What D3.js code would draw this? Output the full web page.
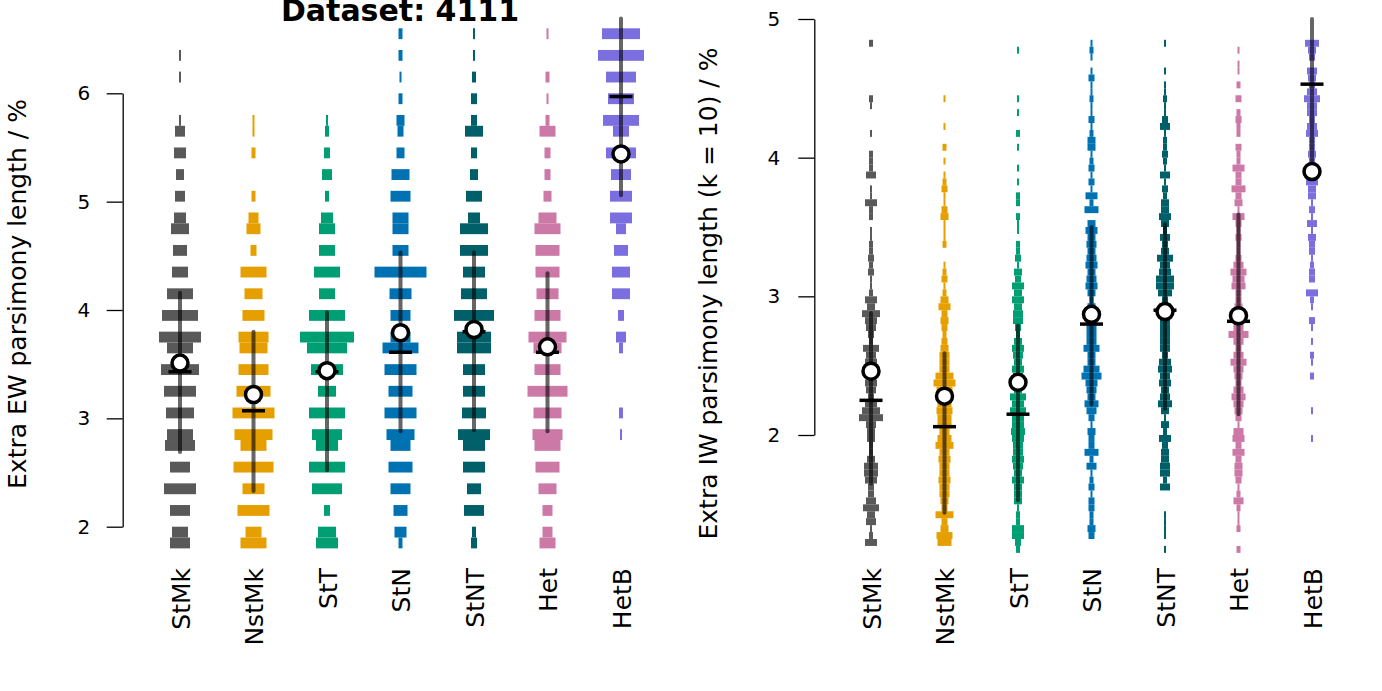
<!DOCTYPE html>
<html>
<head>
<meta charset="utf-8">
<script src="https://cdn.jsdelivr.net/npm/d3@7"></script>
<style>
  body { margin: 0; background: #fff; }
  svg text { font-family: "DejaVu Sans", sans-serif; fill: #000; }
</style>
</head>
<body>
<div id="chart"></div>
<script>
// categories and colours
const categories = ["StMk", "NstMk", "StT", "StN", "StNT", "Het", "HetB"];
const catColors = ["#595959", "#E69F00", "#009E73", "#0072B2", "#005F69", "#CC79A7", "#7B6EDE"];

// left panel: extra EW parsimony length, histogram bins (lower edge, width 0.1)
const ewBins = [1.8, 1.9, 2.1, 2.3, 2.5, 2.7, 2.8, 3.0, 3.2, 3.4, 3.6, 3.7, 3.9, 4.1,
                4.3, 4.5, 4.7, 4.8, 5.0, 5.2, 5.4, 5.6, 5.7, 5.9, 6.1, 6.3, 6.5];
const ewStMk  = [10, 8, 10, 16, 10, 15, 13, 14, 16, 19, 13, 21, 18, 13, 8, 7, 9, 6, 5, 4, 6, 5, 1, 0, 1, 1, 0];
const ewNstMk = [13, 8, 16, 11, 20, 13, 19, 21, 17, 15, 14, 15, 11, 9, 13, 3, 7, 5, 2, 0, 2, 1, 1, 0, 0, 0, 0];
const ewStT   = [11, 9, 3, 15, 18, 11, 15, 18, 9, 16, 20, 27, 18, 8, 13, 8, 8, 6, 2, 5, 3, 2, 1, 0, 0, 0, 0];
const ewStN   = [2, 6, 7, 10, 12, 10, 14, 16, 12, 16, 18, 10, 10, 11, 26, 8, 8, 8, 10, 9, 4, 3, 4, 2, 1, 2, 2];
const ewStNT  = [3, 2, 10, 7, 11, 11, 16, 12, 11, 11, 17, 17, 20, 13, 11, 14, 14, 6, 8, 4, 3, 9, 3, 3, 2, 1, 1];
const ewHet   = [8, 5, 5, 9, 12, 13, 15, 14, 20, 13, 14, 19, 13, 11, 12, 12, 13, 9, 4, 3, 3, 8, 2, 1, 2, 0, 1];
const ewHetB  = [0, 0, 0, 0, 0, 0, 1, 2, 0, 0, 2, 5, 3, 9, 9, 7, 5, 11, 11, 10, 15, 8, 18, 13, 15, 23, 19];
const ewLow    = [2.69, 2.33, 2.52, 2.88, 2.89, 2.88, 5.06];
const ewHigh   = [4.16, 3.80, 3.98, 4.53, 4.53, 4.34, 6.69];
const ewMedian = [3.43, 3.07, 3.43, 3.61, 3.80, 3.61, 5.97];
const ewMean   = [3.51, 3.22, 3.44, 3.79, 3.82, 3.66, 5.44];
const ewTicks  = [2, 3, 4, 5, 6];

// right panel: extra IW parsimony length (k = 10), bins of 0.05 starting at 1.15
const iwBinStart = 1.15, iwBinStep = 0.05;
const iwStMk = [0, 6, 2, 1, 5, 4, 8, 5, 3, 3,
                6, 7, 7, 4, 2, 2, 4, 4, 5, 12,
                9, 6, 3, 5, 6, 5, 5, 6, 5, 8,
                2, 3, 5, 6, 9, 4, 6, 2, 1, 1,
                3, 2, 3, 2, 2, 1, 1, 0, 2, 2,
                6, 1, 1, 0, 5, 2, 2, 2, 0, 0,
                1, 0, 0, 0, 1, 2, 0, 0, 0, 0,
                0, 0, 0, 2];
const iwNstMk = [0, 7, 8, 4, 3, 9, 3, 4, 5, 5,
                 6, 5, 5, 6, 5, 9, 7, 5, 7, 7,
                 8, 7, 7, 8, 11, 9, 5, 5, 5, 4,
                 3, 2, 3, 4, 3, 6, 4, 2, 1, 3,
                 2, 1, 0, 0, 2, 1, 1, 1, 4, 3,
                 1, 1, 3, 2, 1, 0, 1, 0, 2, 0,
                 0, 1, 0, 0, 0, 1, 0, 0, 0, 0,
                 0, 0, 0, 0];
const iwStT = [2, 3, 6, 6, 2, 2, 1, 4, 4, 4,
               6, 4, 5, 6, 5, 5, 6, 7, 6, 6,
               8, 6, 8, 4, 5, 5, 6, 4, 5, 6,
               4, 2, 3, 5, 5, 4, 6, 4, 6, 3,
               4, 1, 3, 2, 2, 0, 1, 1, 2, 0,
               2, 2, 0, 1, 0, 1, 0, 0, 1, 0,
               2, 0, 0, 1, 0, 1, 0, 0, 0, 0,
               0, 0, 1, 0];
const iwStN = [0, 0, 3, 4, 2, 2, 3, 3, 1, 3,
               2, 1, 5, 2, 7, 3, 3, 4, 1, 3,
               5, 7, 4, 5, 6, 10, 8, 4, 4, 8,
               5, 5, 5, 5, 5, 4, 2, 4, 6, 5,
               4, 6, 5, 4, 5, 4, 6, 4, 0, 7,
               2, 6, 1, 3, 1, 3, 2, 1, 4, 4,
               2, 1, 3, 1, 1, 2, 1, 1, 3, 1,
               0, 1, 2, 1];
const iwStNT = [1, 0, 1, 1, 1, 1, 0, 0, 0, 5,
                2, 5, 5, 4, 4, 3, 6, 2, 4, 1,
                4, 7, 5, 4, 6, 5, 7, 6, 3, 5,
                5, 5, 5, 5, 6, 6, 3, 7, 9, 9,
                6, 5, 8, 4, 3, 5, 2, 4, 6, 4,
                4, 2, 3, 1, 5, 1, 2, 3, 2, 2,
                1, 5, 3, 1, 1, 2, 1, 1, 0, 1,
                0, 0, 0, 1];
const iwHet = [2, 0, 0, 2, 1, 1, 2, 5, 2, 1,
               3, 4, 4, 3, 6, 3, 6, 5, 1, 3,
               4, 5, 7, 5, 3, 4, 5, 8, 5, 3,
               5, 10, 5, 5, 5, 4, 3, 3, 7, 6,
               8, 5, 3, 2, 2, 3, 2, 3, 6, 1,
               4, 3, 7, 3, 3, 6, 2, 2, 3, 0,
               2, 2, 3, 2, 0, 3, 0, 2, 0, 1,
               1, 0, 1, 0];
const iwHetB = [0, 0, 0, 0, 0, 0, 0, 0, 0, 0,
                0, 0, 0, 0, 0, 0, 1, 0, 0, 0,
                1, 0, 0, 0, 0, 2, 0, 1, 2, 0,
                1, 0, 1, 3, 0, 1, 2, 6, 0, 3,
                3, 2, 1, 3, 3, 4, 1, 5, 1, 3,
                1, 4, 4, 6, 4, 6, 3, 4, 3, 3,
                6, 5, 3, 5, 5, 8, 5, 3, 4, 5,
                0, 3, 4, 7];
const iwLow    = [1.65, 1.44, 1.53, 2.22, 2.19, 2.15, 3.98];
const iwHigh   = [2.88, 2.59, 2.79, 3.50, 3.52, 3.59, 5.00];
const iwMedian = [2.25, 2.06, 2.15, 2.80, 2.90, 2.82, 4.53];
const iwMean   = [2.46, 2.28, 2.38, 2.87, 2.89, 2.86, 3.90];
const iwTicks  = [2, 3, 4, 5];

const width = 1382, height = 691;

const svg = d3.select("#chart").append("svg")
    .attr("width", width)
    .attr("height", height);

// bar width from count (shared by both panels)
const wScale = d3.scaleLinear().domain([0, 30]).range([0, 60]);

function drawPanel(cfg) {
    const x = d3.scalePoint().domain(categories).range(cfg.xRange);
    const y = d3.scaleLinear().domain(cfg.yDomain).range(cfg.yRange);
    const g = svg.append("g");

    // histogram bars
    categories.forEach((cat, ci) => {
        const counts = cfg.counts[ci];
        const bars = counts.map((c, i) => ({ lo: cfg.binLow(i), c }))
            .filter(d => d.c > 0);
        g.append("g").selectAll("rect")
            .data(bars)
            .enter().append("rect")
            .attr("x", d => x(cat) - wScale(d.c) / 2)
            .attr("width", d => wScale(d.c))
            .attr("y", d => y(d.lo + cfg.binStep))
            .attr("height", d => y(d.lo) - y(d.lo + cfg.binStep))
            .attr("fill", catColors[ci]);
    });

    // range lines
    g.append("g").selectAll("line")
        .data(categories)
        .enter().append("line")
        .attr("x1", d => x(d)).attr("x2", d => x(d))
        .attr("y1", (d, i) => y(cfg.low[i]))
        .attr("y2", (d, i) => y(cfg.high[i]))
        .attr("stroke", "rgba(0,0,0,0.6)")
        .attr("stroke-width", 4)
        .attr("stroke-linecap", "round");

    // medians
    g.append("g").selectAll("line")
        .data(categories)
        .enter().append("line")
        .attr("x1", d => x(d) - 11.5).attr("x2", d => x(d) + 11.5)
        .attr("y1", (d, i) => y(cfg.median[i]))
        .attr("y2", (d, i) => y(cfg.median[i]))
        .attr("stroke", "#000")
        .attr("stroke-width", 3.5);

    // means
    g.append("g").selectAll("circle")
        .data(categories)
        .enter().append("circle")
        .attr("cx", d => x(d))
        .attr("cy", (d, i) => y(cfg.mean[i]))
        .attr("r", 8)
        .attr("fill", "#fff")
        .attr("stroke", "#000")
        .attr("stroke-width", 3.5);

    // y axis
    const axis = svg.append("g")
        .attr("transform", `translate(${cfg.axisX},0)`)
        .call(d3.axisLeft(y).tickValues(cfg.ticks).tickFormat(d3.format("d"))
            .tickSize(16).tickSizeOuter(0).tickPadding(cfg.tickPad));
    axis.select(".domain").attr("stroke-width", 1.3);
    axis.selectAll(".tick line").attr("stroke-width", 1.3);
    axis.selectAll(".tick text")
        .style("font-size", "20px")
        .attr("fill", "#000");

    svg.append("text")
        .attr("transform", `translate(${cfg.titleX},${cfg.titleY}) rotate(-90)`)
        .attr("text-anchor", "middle")
        .style("font-size", "25px")
        .text(cfg.title);

    // category labels
    svg.append("g").selectAll("text")
        .data(categories)
        .enter().append("text")
        .attr("transform", d => `translate(${x(d) + 9.5},568) rotate(-90)`)
        .attr("text-anchor", "end")
        .style("font-size", "25px")
        .text(d => d);
}

drawPanel({
    xRange: [180, 621],
    yDomain: [2, 6],
    yRange: [526.7, 93.3],
    binLow: i => ewBins[i],
    binStep: 0.1,
    counts: [ewStMk, ewNstMk, ewStT, ewStN, ewStNT, ewHet, ewHetB],
    low: ewLow, high: ewHigh, median: ewMedian, mean: ewMean,
    ticks: ewTicks,
    axisX: 122.7,
    tickPad: 16.5,
    title: "Extra EW parsimony length / %",
    titleX: 25.5, titleY: 294
});

drawPanel({
    xRange: [871, 1312],
    yDomain: [2, 5],
    yRange: [435, 19],
    binLow: i => iwBinStart + i * iwBinStep,
    binStep: iwBinStep,
    counts: [iwStMk, iwNstMk, iwStT, iwStN, iwStNT, iwHet, iwHetB],
    low: iwLow, high: iwHigh, median: iwMedian, mean: iwMean,
    ticks: iwTicks,
    axisX: 814.3,
    tickPad: 18,
    title: "Extra IW parsimony length (k = 10) / %",
    titleX: 717, titleY: 293.5
});

svg.append("text")
    .attr("x", 400)
    .attr("y", 21)
    .attr("text-anchor", "middle")
    .style("font-size", "30px")
    .style("font-weight", "bold")
    .text("Dataset: 4111");
</script>
</body>
</html>
